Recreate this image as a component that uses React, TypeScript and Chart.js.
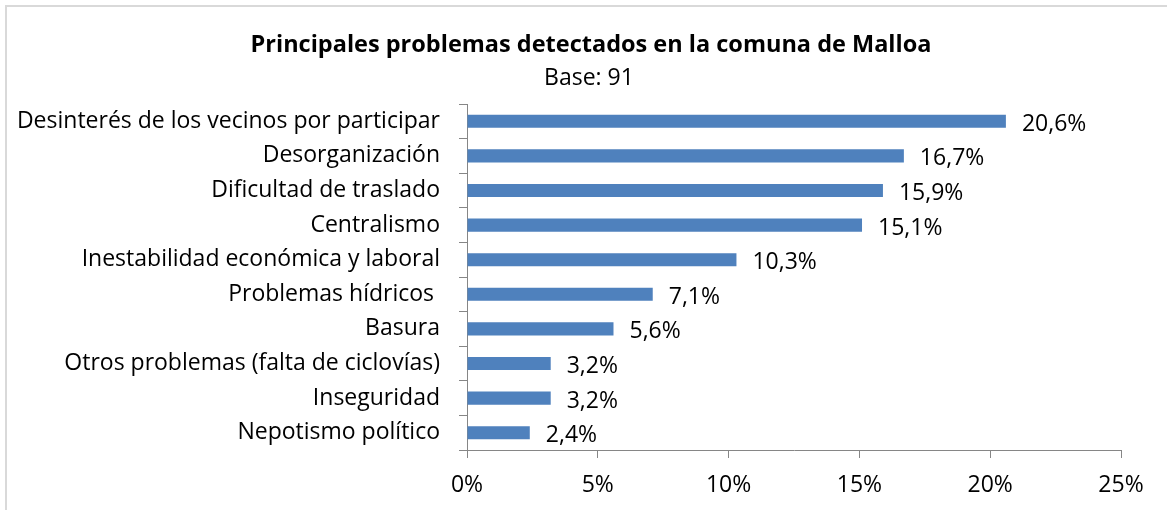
import React, { useEffect, useRef } from "react";
import { Chart, registerables } from "chart.js";

Chart.register(...registerables);

const categories = [
  "Desinterés de los vecinos por participar",
  "Desorganización",
  "Dificultad de traslado",
  "Centralismo",
  "Inestabilidad económica y laboral",
  "Problemas hídricos ",
  "Basura",
  "Otros problemas (falta de ciclovías)",
  "Inseguridad",
  "Nepotismo político",
];
const values = [20.6, 16.7, 15.9, 15.1, 10.3, 7.1, 5.6, 3.2, 3.2, 2.4];
const xTicks = [0, 5, 10, 15, 20, 25];
const titleText = "Principales problemas detectados en la comuna de Malloa";
const subtitleText = "Base: 91";

const FONT = "'Open Sans', Lato, sans-serif";
const AXIS = "#868686";
const SIZE = 23;

const headerPlugin = {
  id: "header",
  afterDraw(chart: any) {
    const ctx = chart.ctx;
    ctx.save();
    ctx.fillStyle = "#000";
    ctx.textAlign = "center";
    ctx.textBaseline = "middle";
    ctx.font = `bold 23.5px ${FONT}`;
    ctx.fillText(titleText, 591, 45);
    ctx.font = `${SIZE}px ${FONT}`;
    ctx.fillText(subtitleText, 589, 78);
    ctx.restore();
  },
};

const valueLabels = {
  id: "valueLabels",
  afterDatasetsDraw(chart: any) {
    const ctx = chart.ctx;
    const meta = chart.getDatasetMeta(0);
    ctx.save();
    ctx.font = `${SIZE}px ${FONT}`;
    ctx.fillStyle = "#000";
    ctx.textAlign = "left";
    ctx.textBaseline = "middle";
    meta.data.forEach((bar: any, i: number) => {
      const v = values[i];
      ctx.fillText(v.toFixed(1).replace(".", ",") + "%", bar.x + 16, bar.y + 3);
    });
    ctx.restore();
  },
};

export default function App() {
  const ref = useRef<HTMLCanvasElement | null>(null);
  useEffect(() => {
    if (!ref.current) return;
    const chart = new Chart(ref.current, {
      type: "bar",
      data: {
        labels: categories,
        datasets: [
          {
            data: values,
            backgroundColor: "#4F81BD",
            borderWidth: 0,
            barPercentage: 0.38,
            categoryPercentage: 1,
          },
        ],
      },
      options: {
        indexAxis: "y",
        animation: false,
        responsive: false,
        maintainAspectRatio: false,
        layout: { padding: { left: 0, right: 46, top: 104, bottom: 0 } },
        plugins: {
          legend: { display: false },
          tooltip: { enabled: false },
          title: { display: false },
        },
        scales: {
          x: {
            type: "linear",
            min: 0,
            max: 25,
            afterBuildTicks: (scale: any) => {
              scale.ticks = xTicks.map((v) => ({ value: v }));
            },
            afterFit: (scale: any) => {
              scale.height = 60;
            },
            ticks: {
              color: "#000",
              font: { family: FONT, size: SIZE },
              padding: 14,
              callback: (v: any) => v + "%",
            },
            grid: {
              drawOnChartArea: false,
              drawTicks: true,
              tickLength: 8,
              color: AXIS,
            },
            border: { color: AXIS, width: 1 },
          },
          y: {
            afterFit: (scale: any) => {
              scale.width = 467;
            },
            ticks: {
              color: "#000",
              font: { family: FONT, size: SIZE },
              padding: 19,
            },
            grid: {
              drawOnChartArea: false,
              drawTicks: true,
              tickLength: 8,
              color: AXIS,
              offset: true,
            },
            border: { color: AXIS, width: 1 },
          },
        },
      },
      plugins: [valueLabels, headerPlugin],
    });
    return () => chart.destroy();
  }, []);

  return (
    <div
      style={{
        position: "fixed",
        left: 0,
        top: 0,
        width: 1167,
        height: 510,
        overflow: "hidden",
        background: "#fff",
      }}
    >
      <canvas ref={ref} width={1167} height={510} style={{ display: "block" }} />
      <div
        style={{
          position: "absolute",
          left: 5,
          top: 5,
          width: 1170,
          height: 510,
          borderLeft: "2px solid #d9d9d9",
          borderTop: "2px solid #d9d9d9",
          pointerEvents: "none",
        }}
      />
    </div>
  );
}
